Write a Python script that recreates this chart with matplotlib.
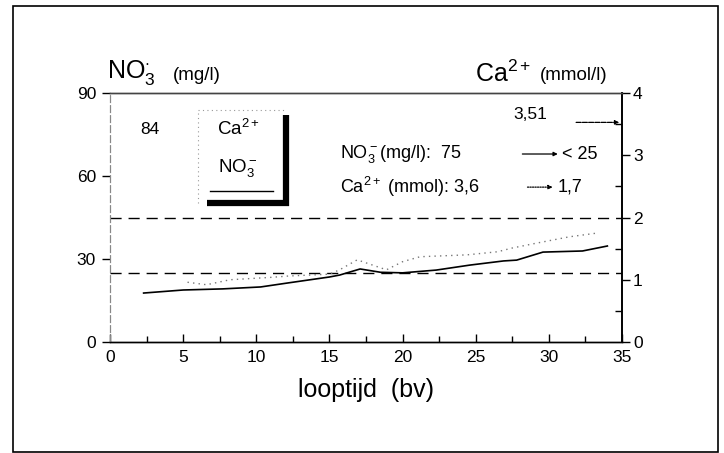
import matplotlib
matplotlib.use("Agg")
import matplotlib.pyplot as plt
from matplotlib.ticker import MultipleLocator

plt.rcParams['font.family'] = ['Liberation Sans', 'DejaVu Sans']
plt.rcParams['mathtext.fontset'] = 'custom'
plt.rcParams['mathtext.rm'] = 'Liberation Sans'
plt.rcParams['mathtext.it'] = 'Liberation Sans'

# looptijd (jaren) en nitraat (mg/l)
no3_t = [2.3, 5.0, 7.7, 10.3, 12.1, 15.0, 15.7, 17.1, 18.5, 20.0, 22.3, 24.6, 26.9, 27.8, 29.6, 32.3, 34.0]
no3_mg = [17.7, 18.8, 19.2, 19.9, 21.3, 23.5, 24.2, 26.4, 25.2, 25.0, 26.0, 27.8, 29.3, 29.6, 32.5, 32.9, 34.7]

# looptijd (jaren) en calcium (mmol/l)
ca_t = [5.3, 6.6, 8.2, 11.1, 12.2, 15.0, 15.7, 16.9, 18.9, 20.0, 21.2, 24.4, 26.5, 27.5, 29.2, 31.4, 33.3]
ca_mmol = [0.96, 0.92, 1.00, 1.04, 1.06, 1.09, 1.16, 1.32, 1.16, 1.29, 1.37, 1.40, 1.45, 1.51, 1.59, 1.69, 1.75]

ref_no3 = [45, 25]
no3_ticks = [0, 30, 60, 90]
ca_ticks = [0, 1, 2, 3, 4]

fig = plt.figure(figsize=(7.24, 4.53), dpi=100)
ax = fig.add_axes([0.1519, 0.245, 0.7072, 0.5497])
ax2 = ax.twinx()

ax.plot(no3_t, no3_mg, color='black', lw=1.2)
ax2.plot(ca_t, ca_mmol, color='#777777', lw=1.0, linestyle=(0, (1, 3)))
for v in ref_no3:
    ax.axhline(v, color='black', lw=1.0, linestyle=(0, (8, 5)))

ax.set_xlim(0, 35)
ax.set_ylim(0, 90)
ax2.set_ylim(0, 4)
ax.set_yticks(no3_ticks)
ax2.set_yticks(ca_ticks)
ax.xaxis.set_major_locator(MultipleLocator(5))
ax.xaxis.set_minor_locator(MultipleLocator(2.5))
ax2.yaxis.set_minor_locator(MultipleLocator(0.5))

ax.tick_params(axis='x', direction='in', length=6, width=1, labelsize=12.5, pad=6)
ax.tick_params(axis='x', which='minor', direction='in', length=4, width=1)
ax.tick_params(axis='y', direction='out', length=6, width=1, labelsize=12.5, pad=4)
ax2.tick_params(axis='y', direction='out', length=6, width=1, labelsize=12.5, pad=2)
ax2.tick_params(axis='y', which='minor', direction='in', length=5, width=1)

for a in (ax, ax2):
    a.spines['top'].set_color('#444444')
    a.spines['top'].set_linewidth(1.0)
    a.spines['left'].set_linestyle((0, (6, 3)))
    a.spines['left'].set_color('#888888')
    a.spines['right'].set_linewidth(1.2)
    a.spines['bottom'].set_linewidth(1.0)

ax.set_xlabel('looptijd  (bv)', fontsize=18, labelpad=9)

# koppen boven de assen
ax.text(-0.005, 1.025, r'NO$_3^{\cdot}$', transform=ax.transAxes, fontsize=18, ha='left', va='bottom')
ax.text(0.122, 1.035, '(mg/l)', transform=ax.transAxes, fontsize=13.5, ha='left', va='bottom')
ax.text(0.713, 1.025, r'Ca$^{2+}$', transform=ax.transAxes, fontsize=18, ha='left', va='bottom')
ax.text(0.84, 1.035, '(mmol/l)', transform=ax.transAxes, fontsize=13.5, ha='left', va='bottom')

# legenda met schaduw
ax.plot([0.172, 0.172], [0.56, 0.93], transform=ax.transAxes, color='#999999', lw=0.8,
        linestyle=(0, (1, 3)), clip_on=False)
ax.plot([0.172, 0.34], [0.93, 0.93], transform=ax.transAxes, color='#999999', lw=0.8,
        linestyle=(0, (1, 3)), clip_on=False)
ax.plot([0.344, 0.344], [0.547, 0.912], transform=ax.transAxes, color='black', lw=4.5,
        solid_capstyle='butt', clip_on=False)
ax.plot([0.189, 0.35], [0.56, 0.56], transform=ax.transAxes, color='black', lw=4.5,
        solid_capstyle='butt', clip_on=False)
ax.text(0.25, 0.855, r'Ca$^{2+}$', transform=ax.transAxes, fontsize=13.5, ha='center', va='center')
ax.text(0.25, 0.70, r'NO$_3^-$', transform=ax.transAxes, fontsize=13.5, ha='center', va='center')
ax.plot([0.195, 0.318], [0.606, 0.606], transform=ax.transAxes, color='black', lw=1.0)

# beginwaarden
ax.text(0.078, 0.855, '84', transform=ax.transAxes, fontsize=12.5, ha='center', va='center')
ax.text(0.82, 0.915, '3,51', transform=ax.transAxes, fontsize=12.5, ha='center', va='center')
ax.annotate('', xy=(1.0, 0.882), xytext=(0.905, 0.882), xycoords='axes fraction',
            arrowprops=dict(arrowstyle='-|>', color='black', lw=0.9, linestyle=(0, (4, 1)),
                            mutation_scale=6))

# overzicht van de afname
ax.text(0.449, 0.755, r'NO$_3^-$(mg/l):  75', transform=ax.transAxes, fontsize=13,
        ha='left', va='center')
ax.annotate('', xy=(0.88, 0.755), xytext=(0.80, 0.755), xycoords='axes fraction',
            arrowprops=dict(arrowstyle='-|>', color='black', lw=0.9, mutation_scale=6))
ax.text(0.882, 0.755, '< 25', transform=ax.transAxes, fontsize=13, ha='left', va='center')
ax.text(0.449, 0.622, r'Ca$^{2+}$ (mmol): 3,6', transform=ax.transAxes, fontsize=13,
        ha='left', va='center')
ax.annotate('', xy=(0.87, 0.622), xytext=(0.81, 0.622), xycoords='axes fraction',
            arrowprops=dict(arrowstyle='-|>', color='black', lw=0.9, linestyle=(0, (1, 1)),
                            mutation_scale=6))
ax.text(0.875, 0.622, '1,7', transform=ax.transAxes, fontsize=13, ha='left', va='center')

# kader rond de figuur
fig.add_artist(plt.Rectangle((13 / 724, 1 / 453), 705 / 724, 446 / 453, fill=False,
                             edgecolor='black', lw=1.2, transform=fig.transFigure))

fig.savefig('out.png', dpi=100)
